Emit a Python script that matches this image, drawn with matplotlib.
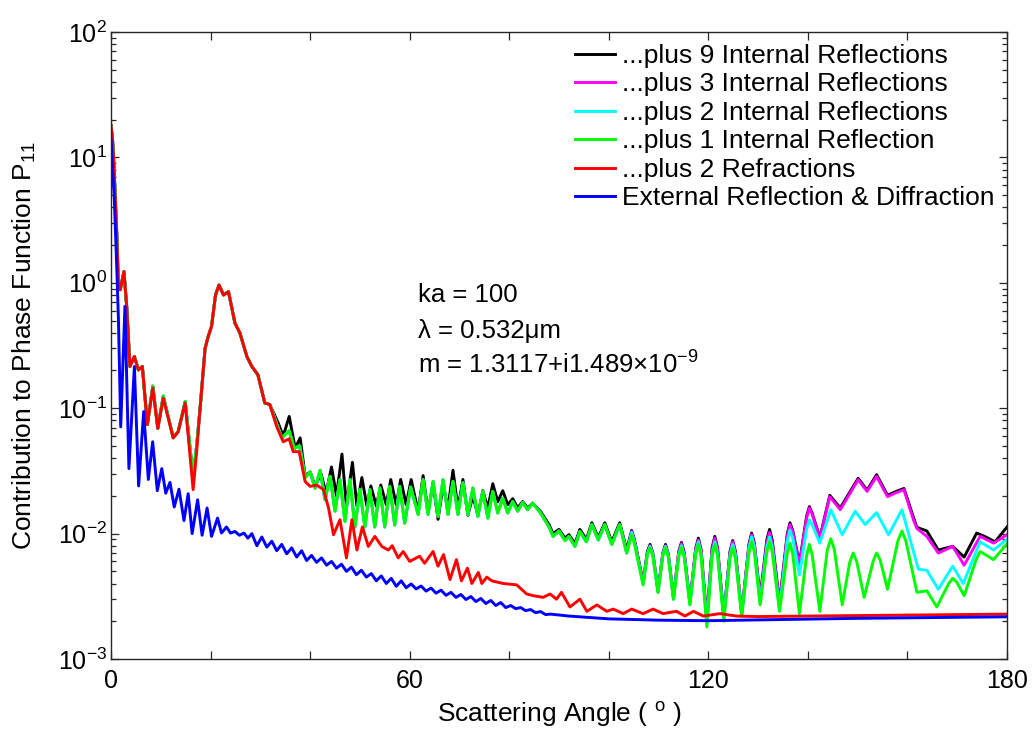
import matplotlib
matplotlib.use("Agg")
import matplotlib.pyplot as plt
from matplotlib.ticker import LogLocator, NullFormatter

plt.rcParams["font.family"] = ["Liberation Sans", "DejaVu Sans"]
plt.rcParams["mathtext.fontset"] = "custom"
plt.rcParams["mathtext.rm"] = "Liberation Sans"
plt.rcParams["mathtext.it"] = "Liberation Sans:italic"
plt.rcParams["mathtext.bf"] = "Liberation Sans:bold"

# ---- External reflection & diffraction ----
ang_ext = [0, 0.67, 1.15, 1.5, 1.95, 2.8, 3.6, 4.7, 5.55, 6.56, 7.5, 8.37, 9.3, 10.2,
           11.0, 11.85, 12.7, 13.66, 14.66, 15.5, 16.3, 17.4, 18.3, 19.3, 20.2, 21.4,
           22.2, 23.2, 24.0, 24.9, 25.8, 26.7, 27.5,
           28.3, 29.3, 30.3, 31.3, 32.3, 33.3, 34.3, 35.3, 36.3, 37.3, 38.3, 39.3,
           40.3, 41.3, 42.3, 43.3, 44.3, 45.3, 46.3, 47.3, 48.3, 49.3, 50.3, 51.3,
           52.3, 53.3, 54.3, 55.3, 56.3, 57.3, 58.3, 59.3, 60.3, 61.3, 62.3, 63.3,
           64.3, 65.3, 66.3, 67.3, 68.3, 69.3, 70.3, 71.3, 72.3, 73.3, 74.3, 75.3,
           76.3, 77.3, 78.3, 79.3, 80.3, 81.3, 82.3, 83.3, 84.3, 85.3, 86.3, 87.3,
           88.3, 92, 100, 110, 120, 130, 140, 150, 160, 170, 180]
p_ext = [14, 4.6, 1.35, 0.5, 0.071, 0.65, 0.033, 0.215, 0.024, 0.094, 0.027, 0.054, 0.022, 0.033,
         0.021, 0.0256, 0.0163, 0.0226, 0.0127, 0.0208, 0.0100, 0.0186, 0.0097, 0.016, 0.0095, 0.0133,
         0.0101, 0.0113, 0.0101, 0.0104, 0.0097, 0.0101, 0.0092,
         0.0100, 0.0080, 0.0094, 0.0078, 0.0087, 0.0073, 0.0082, 0.0069, 0.0077, 0.0065, 0.0073, 0.0061,
         0.0067, 0.0059, 0.0064, 0.0056, 0.0060, 0.0053, 0.0057, 0.0050, 0.0054, 0.0047, 0.0051, 0.0045,
         0.0048, 0.0042, 0.0046, 0.0040, 0.0044, 0.0038, 0.0042, 0.0037, 0.00397, 0.00362, 0.00382, 0.00348,
         0.00368, 0.00335, 0.00354, 0.00322, 0.00340, 0.00310, 0.00327, 0.00298, 0.00315, 0.00287, 0.00304, 0.00277,
         0.00293, 0.00267, 0.00282, 0.00257, 0.00267, 0.00252, 0.00257, 0.00243, 0.00248, 0.00234, 0.00239, 0.00226,
         0.00228, 0.00220, 0.00209, 0.00204, 0.00202, 0.00205, 0.00208, 0.00211, 0.00213, 0.00215, 0.00217]

# ---- Forward lobe shared by the refraction curves (0-32 deg) ----
ang_fwd = [0, 0.3, 0.6, 1.15, 1.47, 1.85, 2.6, 3.15, 3.8, 4.7, 5.5, 6.3, 7.3, 8.4, 9.4, 10.5,
           12.5, 13.5, 14.9, 16.5, 17.2, 17.9, 18.9, 19.5, 20.2, 21.0, 21.7, 22.6, 23.6,
           24.9, 25.9, 27.3, 28.3, 29.5, 30.9, 31.9]
p_fwd_ref = [18, 14, 8.5, 2.5, 1.0, 0.88, 1.23, 0.65, 0.215, 0.258, 0.202, 0.215, 0.074, 0.145, 0.069, 0.12,
             0.058, 0.065, 0.11, 0.0224, 0.045, 0.10, 0.30, 0.37, 0.45, 0.80, 0.96, 0.80, 0.85,
             0.477, 0.397, 0.258, 0.215, 0.185, 0.11, 0.107]
p_fwd_int = [18, 14, 8.5, 2.5, 1.0, 0.88, 1.23, 0.65, 0.215, 0.258, 0.202, 0.215, 0.074, 0.15, 0.069, 0.125,
             0.058, 0.065, 0.113, 0.028, 0.05, 0.10, 0.30, 0.37, 0.45, 0.80, 0.96, 0.80, 0.85,
             0.477, 0.397, 0.258, 0.215, 0.185, 0.11, 0.107]

# ---- ...plus 2 refractions (beyond 32 deg) ----
ang_ref = [33.3, 34.6, 35.8, 36.6, 37.8, 39.0, 40.0, 41.3, 42.7, 43.7, 44.7, 46.0, 47.3, 48.4,
           49.4, 50.5, 51.7, 53.0, 54.4, 55.7, 56.5, 57.7, 58.7, 60.0, 62.0, 63.0, 64.7, 65.7,
           66.8, 68.1, 69.4, 70.4, 71.6, 72.5, 73.8, 74.5, 75.5, 76.5, 78.8, 81.5, 83.5, 84.8,
           86.8, 88.2, 89.5, 90.5, 92.2, 94.2, 95.6, 97.6, 99.6, 100.9, 102.9, 104.6, 106.9,
           108.9, 110.9, 113.6, 115.3, 117.0, 119.0, 122.3, 125.7, 130, 140, 150, 160, 170, 180]
p_ref = [0.071, 0.054, 0.057, 0.045, 0.045, 0.026, 0.0238, 0.0244, 0.0224, 0.016, 0.0098, 0.0129, 0.0064, 0.0129,
         0.0074, 0.0113, 0.0079, 0.0095, 0.0079, 0.0074, 0.0080, 0.0064, 0.0072, 0.0060, 0.0066, 0.0058, 0.0072, 0.0055,
         0.0068, 0.0043, 0.0062, 0.0042, 0.0053, 0.0040, 0.0049, 0.0040, 0.0045, 0.0042, 0.0040, 0.0039, 0.0033, 0.0032,
         0.0031, 0.0033, 0.0030, 0.0034, 0.0026, 0.0030, 0.0024, 0.0027, 0.0024, 0.0025, 0.0023, 0.0025, 0.0023,
         0.0025, 0.0023, 0.0024, 0.0022, 0.0024, 0.0022, 0.0023, 0.0022, 0.00218, 0.0022, 0.00222, 0.00224, 0.00226, 0.00228]

# ---- ...plus 1 internal reflection (33-104 deg, shared with 2 and 3 reflections) ----
ang_int_mid = [33.3, 34.3, 35.8, 36.8, 37.9, 39.0, 40.0, 41.0, 42.0, 43.0, 44.0, 45.0, 46.0, 47.0,
               48.0, 49.0, 50.0, 51.0, 52.0, 53.0, 54.0, 55.0, 56.0, 57.0, 58.0, 59.0, 60.2, 61.7,
               62.7, 63.7, 64.7, 65.7, 66.7, 67.7, 68.7, 69.7, 70.7, 71.7, 72.7, 73.7, 74.7, 75.7,
               76.7, 77.7, 78.7, 79.7, 80.7, 81.7, 82.7, 83.7, 84.7, 86.3, 88.0, 88.8, 90.0, 91.2,
               92.0, 93.2, 94.2, 95.5, 96.6, 97.9, 99.2, 100.6, 102.2, 103.6]
p_int_mid = [0.075, 0.058, 0.066, 0.048, 0.050, 0.028, 0.031, 0.023, 0.032, 0.0186, 0.0286, 0.0151, 0.0269, 0.0125,
             0.0269, 0.0113, 0.0224, 0.0113, 0.0224, 0.0113, 0.0231, 0.0113, 0.0238, 0.0117, 0.0238, 0.0121, 0.0235, 0.0142,
             0.0269, 0.0142, 0.0261, 0.0137, 0.0269, 0.0142, 0.0261, 0.0142, 0.0254, 0.0142, 0.0231, 0.0137, 0.0217, 0.0133,
             0.0217, 0.0146, 0.0191, 0.0146, 0.018, 0.0151, 0.0177, 0.0155, 0.0175, 0.0146, 0.0113, 0.0095, 0.0105, 0.0088,
             0.0095, 0.0079, 0.0104, 0.0086, 0.0118, 0.0089, 0.0118, 0.0082, 0.0118, 0.0070]

# ---- backward tails (104.6-142.4 deg), peaks with their shoulders ----
ang_tail = [104.6, 105.15, 106.9,
            107.75, 108.3, 108.85, 109.9,
            110.85, 111.4, 111.95, 113.0,
            114.05, 114.6, 115.15, 116.3,
            117.45, 118.0, 118.55, 119.7,
            120.75, 121.3, 121.85, 123.1,
            124.35, 124.9, 125.45, 126.7,
            128.15, 128.7, 129.25, 130.4,
            131.75, 132.3, 132.85, 134.3,
            135.85, 136.4, 136.95, 138.3,
            139.75, 140.3, 140.85, 142.4]
p_ir1_tail = [0.0098, 0.0083, 0.0039, 0.0068, 0.0077, 0.0066, 0.0034, 0.0066, 0.0077, 0.0065, 0.0030,
              0.0065, 0.0077, 0.0065, 0.0027, 0.0068, 0.0082, 0.0066, 0.0018, 0.0066, 0.0082, 0.0067, 0.0020,
              0.0063, 0.0077, 0.0063, 0.0022, 0.0070, 0.0086, 0.0071, 0.0027, 0.0071, 0.0086, 0.0071, 0.0024,
              0.0069, 0.0084, 0.0069, 0.0023, 0.0067, 0.0082, 0.0068, 0.0024]
p_ir2_tail = [0.0102, 0.0086, 0.0039, 0.0069, 0.0079, 0.0068, 0.0034, 0.0068, 0.0079, 0.0067, 0.0030,
              0.0068, 0.0080, 0.0067, 0.0027, 0.0071, 0.0086, 0.0069, 0.0019, 0.0069, 0.0086, 0.0070, 0.0021,
              0.0067, 0.0082, 0.0067, 0.0022, 0.0076, 0.0094, 0.0078, 0.0028, 0.0078, 0.0094, 0.0077, 0.0025,
              0.0087, 0.0107, 0.0092, 0.0047, 0.0109, 0.0129, 0.0118, 0.0084]
p_ir3_tail = [0.0104, 0.0088, 0.0040, 0.0070, 0.0080, 0.0069, 0.0034, 0.0069, 0.0080, 0.0068, 0.0030,
              0.0070, 0.0083, 0.0069, 0.0028, 0.0074, 0.0089, 0.0072, 0.0020, 0.0074, 0.0092, 0.0075, 0.0022,
              0.0070, 0.0086, 0.0070, 0.0023, 0.0079, 0.0098, 0.0081, 0.0030, 0.0084, 0.0102, 0.0083, 0.0027,
              0.0095, 0.0118, 0.0103, 0.0056, 0.0134, 0.0160, 0.0143, 0.0091]
p_ir9_tail = [0.0106, 0.0090, 0.0041, 0.0072, 0.0082, 0.0070, 0.0035, 0.0070, 0.0082, 0.0069, 0.0031,
              0.0072, 0.0085, 0.0071, 0.0028, 0.0076, 0.0092, 0.0074, 0.0021, 0.0077, 0.0095, 0.0077, 0.0022,
              0.0072, 0.0088, 0.0072, 0.0023, 0.0082, 0.0101, 0.0084, 0.0031, 0.0089, 0.0108, 0.0088, 0.0028,
              0.0099, 0.0122, 0.0106, 0.0058, 0.0138, 0.0164, 0.0146, 0.0093]

# rainbow / glory region
ang_ir1_back = [143.9, 144.6, 145.3, 146.9, 148.4, 149.1, 149.8, 151.3, 153.1, 153.8, 154.5, 156.0,
                158.1, 158.9, 159.7, 161.9, 163.9, 165.9, 168.3, 169.1, 169.9, 171.4, 173.8, 174.6, 177.3, 180]
p_ir1_back = [0.0074, 0.0091, 0.0075, 0.0027, 0.0059, 0.0070, 0.0060, 0.0031, 0.0060, 0.0070, 0.0062, 0.0036,
              0.0088, 0.0105, 0.0087, 0.0034, 0.0035, 0.0026, 0.0040, 0.0044, 0.0041, 0.0032, 0.0062, 0.0072, 0.0062, 0.0083]
ang_ir2_back = [144.6, 146.9, 149.5, 151.5, 153.8, 156.2, 158.9, 162.2, 163.9, 166.2, 169.1, 171.2, 174.6, 177.3, 180]
p_ir2_back = [0.0155, 0.0098, 0.0151, 0.0118, 0.0147, 0.0098, 0.0155, 0.0052, 0.0051, 0.0036, 0.0055, 0.0040, 0.0086, 0.0074, 0.0090]
ang_ir3_back = [144.4, 146.5, 150.1, 151.9, 153.8, 156.0, 157.5, 159.3, 161.2, 161.9, 163.9, 166.2, 169.1, 171.4, 174.6, 177.3, 180]
p_ir3_back = [0.0197, 0.0155, 0.0269, 0.0217, 0.0286, 0.0197, 0.0210, 0.0224, 0.0129, 0.0110, 0.0095, 0.0070, 0.0079, 0.0056, 0.0095, 0.0084, 0.0098]
ang_ir9_back = [144.4, 146.5, 150.1, 151.9, 153.8, 156.0, 157.5, 159.3, 161.2, 161.9, 163.9, 166.2, 169.1, 171.4, 173.9, 175.5, 177.6, 180]
p_ir9_back = [0.0202, 0.0160, 0.0276, 0.0222, 0.0295, 0.0202, 0.0215, 0.0229, 0.0135, 0.0112, 0.0105, 0.0074, 0.0079, 0.0065, 0.0101, 0.0095, 0.0086, 0.0113]

# ---- ...plus 9 internal reflections (33-104 deg) ----
ang_ir9_mid = [33.6, 34.6, 35.8, 37.0, 38.0, 39.0, 40.0, 41.0, 42.2, 43.2, 44.3, 45.3, 46.4, 47.3,
               48.5, 49.4, 50.4, 51.4, 52.2, 53.3, 54.2, 55.3, 56.2, 57.3, 58.2, 59.3, 60.3, 61.7,
               62.7, 63.7, 64.7, 65.7, 66.7, 67.7, 68.7, 69.7, 70.7, 71.7, 72.7, 73.7, 74.7, 75.7,
               76.7, 77.7, 78.7, 79.7, 80.7, 81.7, 82.7, 83.7, 84.7, 86.3, 88.0, 88.8, 90.0, 91.2,
               92.0, 93.2, 94.2, 95.5, 96.6, 97.9, 99.2, 100.6, 102.2, 103.6]
p_ir9_mid = [0.076, 0.060, 0.086, 0.048, 0.058, 0.029, 0.031, 0.024, 0.030, 0.021, 0.034, 0.020, 0.043, 0.0166,
             0.037, 0.0166, 0.028, 0.0166, 0.024, 0.0166, 0.0244, 0.017, 0.027, 0.017, 0.027, 0.017, 0.027, 0.015,
             0.029, 0.015, 0.025, 0.013, 0.024, 0.016, 0.032, 0.016, 0.027, 0.014, 0.020, 0.014, 0.022, 0.016,
             0.025, 0.018, 0.022, 0.017, 0.019, 0.016, 0.018, 0.016, 0.0175, 0.0150, 0.0118, 0.0100, 0.0108, 0.0092,
             0.0098, 0.0083, 0.0108, 0.0090, 0.0122, 0.0093, 0.0122, 0.0086, 0.0122, 0.0074]

labels = ["...plus 9 Internal Reflections", "...plus 3 Internal Reflections",
          "...plus 2 Internal Reflections", "...plus 1 Internal Reflection",
          "...plus 2 Refractions", "External Reflection & Diffraction"]
colors = ["#000000", "#ff00ff", "#00ffff", "#00ff00", "#ff0000", "#0000ff"]

series = [
    (ang_fwd + ang_ir9_mid + ang_tail + ang_ir9_back, p_fwd_int + p_ir9_mid + p_ir9_tail + p_ir9_back),
    (ang_fwd + ang_int_mid + ang_tail + ang_ir3_back, p_fwd_int + p_int_mid + p_ir3_tail + p_ir3_back),
    (ang_fwd + ang_int_mid + ang_tail + ang_ir2_back, p_fwd_int + p_int_mid + p_ir2_tail + p_ir2_back),
    (ang_fwd + ang_int_mid + ang_tail + ang_ir1_back, p_fwd_int + p_int_mid + p_ir1_tail + p_ir1_back),
    (ang_fwd + ang_ref, p_fwd_ref + p_ref),
    (ang_ext, p_ext),
]

fig = plt.figure(figsize=(10.34, 7.34), dpi=100)
ax = fig.add_axes([111 / 1034, 75 / 734, 896 / 1034, 627 / 734])

for (x, y), c, lab in zip(series, colors, labels):
    ax.plot(x, y, color=c, lw=2.1, label=lab, solid_joinstyle="round")

ax.set_yscale("log")
ax.set_xlim(0, 180)
ax.set_ylim(1e-3, 1e2)
ax.set_xticks(range(0, 181, 20))
ax.set_xticklabels(["0", "", "", "60", "", "", "120", "", "", "180"])
ax.yaxis.set_major_locator(LogLocator(base=10, numticks=10))
ax.yaxis.set_minor_locator(LogLocator(base=10, subs=range(2, 10), numticks=20))
ax.yaxis.set_minor_formatter(NullFormatter())

ax.tick_params(which="both", direction="in", top=True, right=True, colors="#262626",
               labelcolor="black", labelsize=18, width=0.9)
ax.tick_params(which="major", length=6)
ax.tick_params(which="minor", length=3.5)
ax.tick_params(axis="x", pad=7)
ax.tick_params(axis="y", pad=3)
for s in ax.spines.values():
    s.set_color("#262626")
    s.set_linewidth(1.0)

ax.set_xlabel("Scattering Angle ( $^{\\mathregular{o}}$ )", fontsize=19)
ax.set_ylabel("Contribution to Phase Function P$_{\\mathregular{11}}$", fontsize=19)
ax.xaxis.set_label_coords(0.5, -0.066)
ax.yaxis.set_label_coords(-0.081, 0.5)

leg = ax.legend(loc="upper left", bbox_to_anchor=(575 / 1034, 1 - 44 / 734),
                bbox_transform=fig.transFigure, frameon=False, fontsize=19,
                handlelength=1.52, handletextpad=0.27, labelspacing=0.17,
                borderpad=0, borderaxespad=0)
for h in leg.get_lines():
    h.set_linewidth(2.1)

fig.text(418 / 1034, 1 - 295 / 734, "ka = 100", fontsize=18.5, va="center")
fig.text(418 / 1034, 1 - 331 / 734, "\u03bb = 0.532\u03bcm", fontsize=18.5, va="center")
fig.text(418 / 1034, 1 - 365 / 734, "m = 1.3117+i1.489\u00d710$^{\\mathregular{-9}}$", fontsize=18.5, va="center")

fig.savefig("out.png", dpi=100)
